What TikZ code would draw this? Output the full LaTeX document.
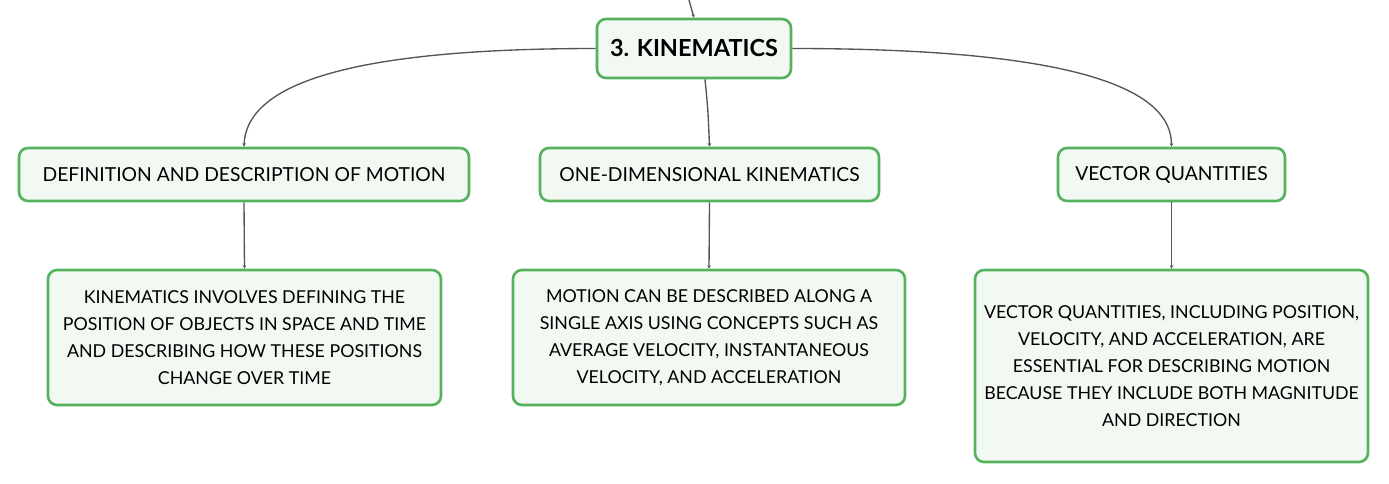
\documentclass[tikz,border=0pt]{standalone}
\usepackage{fontspec}
\setmainfont{Lato}
\usetikzlibrary{arrows.meta}
\definecolor{boxgreen}{RGB}{84,178,92}
\definecolor{boxfill}{RGB}{242,249,243}
\definecolor{linkgray}{RGB}{85,85,85}
\begin{document}
\begin{tikzpicture}[x=1pt,y=-1pt,
  box/.style={draw=boxgreen,fill=boxfill,line width=2.6pt,rounded corners=9pt,inner sep=0pt,align=center,font=\fontsize{17.8}{27}\selectfont},
  headbox/.style={box,font=\fontsize{19.3}{24}\selectfont},
  topbox/.style={box,font=\fontsize{23.5}{28}\selectfont\bfseries},
  link/.style={draw=linkgray,line width=1.35pt,-{Stealth[length=3.5pt,width=3.5pt]}}]
\useasboundingbox (0,0) rectangle (1389,483);
\node[topbox,minimum width=194pt,minimum height=59pt] (k) at (694,48.5) {3. KINEMATICS};
\node[headbox,minimum width=450pt,minimum height=53pt] (def) at (244,174.5) {DEFINITION AND DESCRIPTION OF MOTION};
\node[headbox,minimum width=339pt,minimum height=53pt] (one) at (709.5,174.5) {ONE-DIMENSIONAL KINEMATICS};
\node[headbox,minimum width=227pt,minimum height=53pt] (vec) at (1171.5,174.5) {VECTOR QUANTITIES};
\node[box,minimum width=393pt,minimum height=135pt] (d1) at (244.5,337.5) {KINEMATICS INVOLVES DEFINING THE\\POSITION OF OBJECTS IN SPACE AND TIME\\AND DESCRIBING HOW THESE POSITIONS\\CHANGE OVER TIME};
\node[box,minimum width=392pt,minimum height=135pt] (d2) at (709,337.5) {MOTION CAN BE DESCRIBED ALONG A\\SINGLE AXIS USING CONCEPTS SUCH AS\\AVERAGE VELOCITY, INSTANTANEOUS\\VELOCITY, AND ACCELERATION};
\node[box,minimum width=393pt,minimum height=192pt] (d3) at (1171.5,366) {VECTOR QUANTITIES, INCLUDING POSITION,\\VELOCITY, AND ACCELERATION, ARE\\ESSENTIAL FOR DESCRIBING MOTION\\BECAUSE THEY INCLUDE BOTH MAGNITUDE\\AND DIRECTION};
\coordinate (in) at (689,0);
\draw[link] (in) .. controls (691,8) .. (k.north);
\draw[link] (k.west) .. controls (330,48.5) and (246,90) .. (def.north);
\draw[link] (k.east) .. controls (1080,48.5) and (1171.5,90) .. (vec.north);
\draw[link] (k.south -| 705,0) .. controls (708,110) .. (one.north);
\draw[link] (def.south) -- (d1.north);
\draw[link] (one.south) -- (d2.north);
\draw[link] (vec.south) -- (d3.north);
\end{tikzpicture}
\end{document}
